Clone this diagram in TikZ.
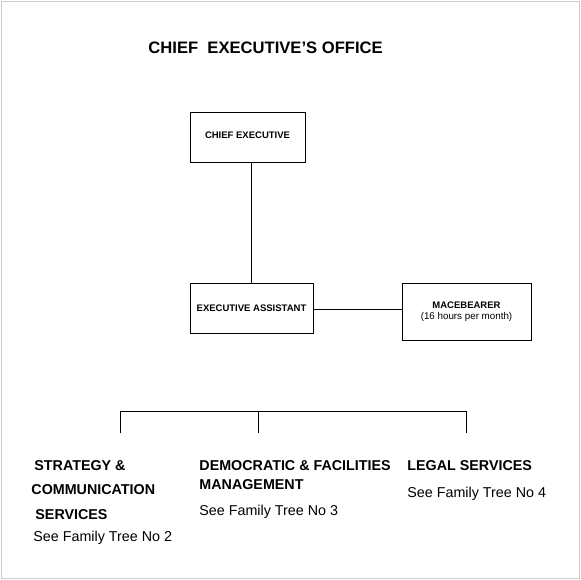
\documentclass[tikz,border=0pt]{standalone}
\usepackage{fontspec}
\setmainfont{Liberation Sans}
\usetikzlibrary{positioning, calc}
\tikzset{
    postbox/.style={draw, line width=0.9pt, inner sep=0pt, font=\fontsize{9.5}{11.5}\selectfont\bfseries, align=center},
    unithead/.style={anchor=base west, inner sep=0pt, font=\fontsize{14.3}{16}\selectfont\bfseries},
    unitref/.style={anchor=base west, inner sep=0pt, font=\fontsize{14.3}{16}\selectfont}
}

\begin{document}
\begin{tikzpicture}[x=1pt, y=-1pt, line width=0.9pt]
    % Page frame (light gray)
    \useasboundingbox (0,0) rectangle (580,580);
    \draw[gray!40, line width=0.8pt] (1,1) rectangle (579,578);

    % Title
    \node[anchor=base west, inner sep=0pt, font=\fontsize{16.6}{19}\selectfont\bfseries] (title) at (148,54) {CHIEF\ \ EXECUTIVE'S OFFICE};

    % Boxes
    \node[postbox, minimum width=115, minimum height=50, text height=10, text depth=6] (chief) at (247.5,137) {CHIEF EXECUTIVE};
    \node[postbox, minimum width=123, minimum height=50] (assist) at (251.5,308) {EXECUTIVE ASSISTANT};
    \node[postbox, minimum width=129, minimum height=57] (mace) at (466.5,311.5) {MACEBEARER\\{\mdseries\fontsize{9.8}{11.5}\selectfont (16 hours per month)}};

    % Connectors between boxes
    \draw (assist.north |- chief.south) -- (assist.north);
    \draw ($(assist.east)+(0,1)$) -- ($(assist.east -| mace.west)+(0,1)$);

    % Bracket to the units
    \coordinate (barL) at (120,411);
    \coordinate (barR) at (466,411);
    \coordinate (legL) at (120,433);
    \coordinate (legM) at (258,433);
    \coordinate (legR) at (466,433);
    \draw (legL) -- (barL) -- (barR) -- (legR);
    \draw (legM) -- (legM |- barL);

    % Units
    \node[unithead] (strat1) at (34,470) {STRATEGY \&};
    \node[unithead] (strat2) at (31,494) {COMMUNICATION};
    \node[unithead] (strat3) at (35,519) {SERVICES};
    \node[unitref] (strat4) at (33,541) {See Family Tree No 2};

    \node[unithead] (demo1) at (199,470) {DEMOCRATIC \& FACILITIES};
    \node[unithead] (demo2) at (199,489) {MANAGEMENT};
    \node[unitref] (demo3) at (199,515) {See Family Tree No 3};

    \node[unithead] (legal1) at (407,470) {LEGAL SERVICES};
    \node[unitref] (legal2) at (407,497) {See Family Tree No 4};
\end{tikzpicture}
\end{document}
